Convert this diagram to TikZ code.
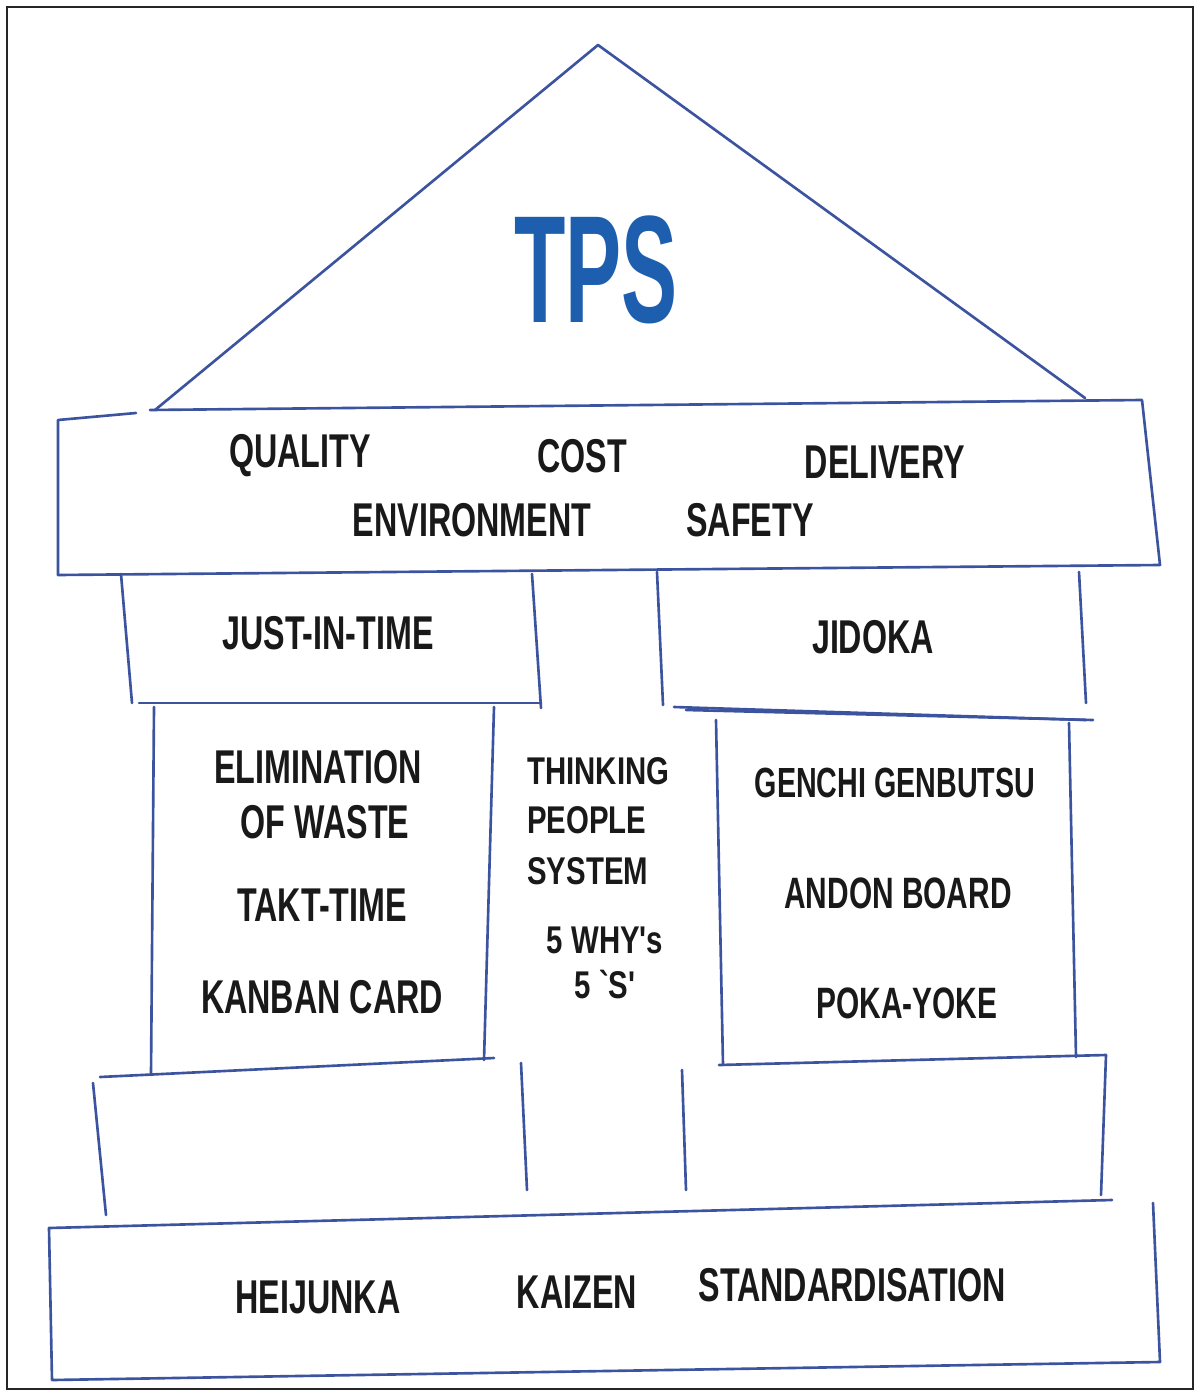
\documentclass[tikz,border=0pt]{standalone}
\usepackage{fontspec}
\setmainfont[FakeStretch=0.68]{Liberation Sans}
\newfontfamily\midfont[FakeStretch=0.76]{Liberation Sans}
\newfontfamily\tpsfont[FakeStretch=0.55]{Liberation Sans}
\usepackage{xcolor}
\definecolor{pen}{HTML}{3C54A0}
\definecolor{tpsblue}{HTML}{1D5FAE}

\tikzset{
  sketch/.style={draw=pen, line width=1.5pt, line join=round, line cap=round},
  word/.style={font=\bfseries\fontsize{27}{30}\selectfont, text=black!90, inner sep=0pt},
  midword/.style={font=\midfont\bfseries\fontsize{22}{26}\selectfont, text=black!90, inner sep=0pt, anchor=west},
}

\begin{document}
\begin{tikzpicture}[x=0.02cm, y=-0.02cm]
            \useasboundingbox (0,0) rectangle (1197,1392);
            % frame
            \draw[black!85, line width=1.2pt] (7,7) rectangle (1193,1389);

            % roof
            \draw[sketch] (155,410) -- (598,45) -- (1085,398);
            \node[font=\tpsfont\bfseries\fontsize{87}{90}\selectfont, text=tpsblue, inner sep=0pt] (tps) at (596,270) {TPS};

            % top beam
            \draw[sketch] (136,413) -- (58,420) -- (58,575) -- (1160,565) -- (1142,400) -- (150,410);
            \node[word] (quality) at (300,456) {QUALITY};
            \node[word] (cost) at (582,456) {COST};
            \node[word] (delivery) at (885,462) {DELIVERY};
            \node[word] (environment) at (472,520) {ENVIRONMENT};
            \node[word] (safety) at (750,520) {SAFETY};

            % upper pillar boxes
            \draw[sketch] (121,574) -- (132,703);
            \draw[sketch] (532,574) -- (541,708);
            \draw[sketch] (139,703) -- (541,703);
            \draw[sketch] (657,572) -- (663,705);
            \draw[sketch] (1079,572) -- (1086,703);
            \draw[sketch] (674,707) -- (1086,720);
            \node[word] (jit) at (328,633) {JUST-IN-TIME};
            \node[word] (jidoka) at (873,637) {JIDOKA};

            % middle pillars
            \draw[sketch] (154,707) -- (151,1075);
            \draw[sketch] (494,707) -- (484,1060);
            \draw[sketch] (716,720) -- (723,1065);
            \draw[sketch] (1069,723) -- (1076,1057);
            \draw[sketch] (686,710) -- (1093,720);
            \node[word] (elim) at (318,767) {ELIMINATION};
            \node[word] (waste) at (325,822) {OF WASTE};
            \node[word] (takt) at (322,905) {TAKT-TIME};
            \node[word] (kanban) at (322,997) {KANBAN CARD};
            \node[word, font=\bfseries\fontsize{24}{28}\selectfont] (genchi) at (895,783) {GENCHI GENBUTSU};
            \node[word, font=\bfseries\fontsize{25}{28}\selectfont] (andon) at (898,893) {ANDON BOARD};
            \node[word, font=\bfseries\fontsize{25}{28}\selectfont] (poka) at (907,1003) {POKA-YOKE};

            % middle column
            \node[midword] (thinking) at (527,771) {THINKING};
            \node[midword] (people) at (527,820) {PEOPLE};
            \node[midword] (system) at (527,871) {SYSTEM};
            \node[midword, anchor=center] (why) at (605,940) {5 WHY's};
            \node[midword, anchor=center] (fives) at (605,985) {5 `S'};

            % lower boxes
            \draw[sketch] (100,1077) -- (494,1058);
            \draw[sketch] (93,1083) -- (106,1215);
            \draw[sketch] (521,1063) -- (527,1190);
            \draw[sketch] (719,1065) -- (1106,1055);
            \draw[sketch] (682,1070) -- (686,1190);
            \draw[sketch] (1106,1055) -- (1101,1195);

            % base
            \draw[sketch] (49,1228) -- (1112,1200);
            \draw[sketch] (1153,1203) -- (1160,1362) -- (52,1380) -- (49,1228);
            \node[word] (heijunka) at (318,1297) {HEIJUNKA};
            \node[word] (kaizen) at (577,1292) {KAIZEN};
            \node[word] (standard) at (852,1285) {STANDARDISATION};
        \end{tikzpicture}
\end{document}
